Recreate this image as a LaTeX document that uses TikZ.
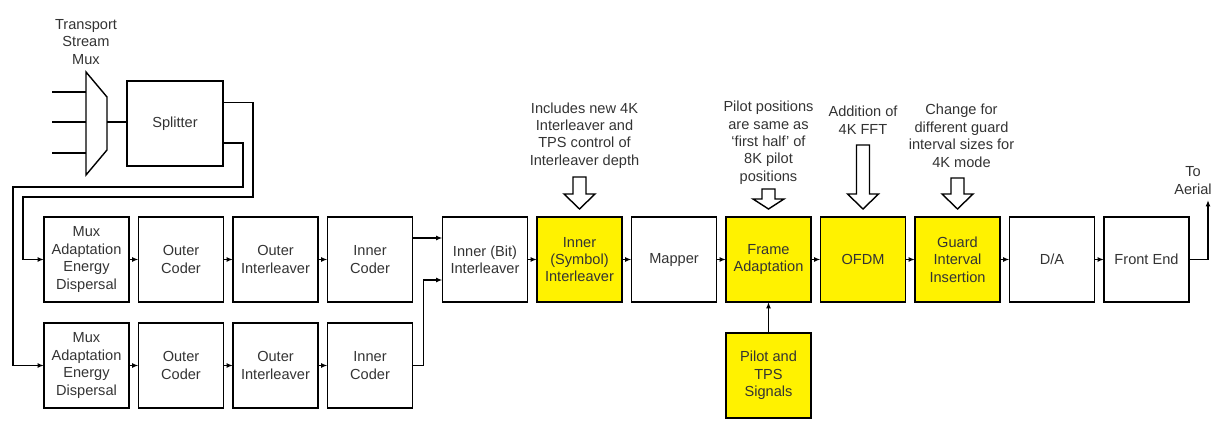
\documentclass[tikz,border=0pt]{standalone}
\usepackage{fontspec}
\setmainfont{Liberation Sans}
\usetikzlibrary{arrows.meta,positioning}

% hollow arrow above a block: node, head height, shaft length, name of shaft top
\newcommand{\hollowarrow}[4]{%
  \draw[fill=white] ([yshift=0.16cm]#1.north) -- ++(-0.31,#2) -- ++(0.18,0) -- ++(0,#3)
    -- ++(0.26,0) -- ++(0,-#3) -- ++(0.18,0) -- cycle;
  \path ([yshift=0.16cm]#1.north) ++(0,{#2+#3}) coordinate (#4);}

\begin{document}
\begin{tikzpicture}[
  node distance=0.19cm,
  line width=0.8pt,
  block/.style={draw, align=center, minimum width=1.7cm, minimum height=1.7cm, inner sep=1pt,
    outer sep=0pt, text=black!80, font=\fontsize{8.3}{9.9}\selectfont},
  hot/.style={block, fill=yellow},
  note/.style={align=center, inner sep=0pt, text=black!80, font=\fontsize{8.3}{9.9}\selectfont},
  >={Latex[length=1.3mm, width=1mm]}
]
\useasboundingbox (0,0) rectangle (24.34,-8.5);

% transport stream mux and splitter
\draw (1.72,-1.44) coordinate (mux-top) -- (2.14,-1.94) -- (2.14,-3.0) -- (1.72,-3.5) -- cycle;
\foreach \y in {-1.84,-2.44,-3.06}
  \draw (1.04,\y) -- (1.72,\y);
\coordinate (mux-out) at (2.14,-2.44);
\node[note, above=0.14cm of mux-top] (muxlabel) {Transport\\Stream\\Mux};
\node[block, minimum width=1.92cm] (splitter) at (3.5,-2.47) {Splitter};
\draw (mux-out) -- (mux-out -| splitter.west);

% two input chains
\node[block] (muxad1) at (1.73,-5.19) {Mux\\Adaptation\\Energy\\Dispersal};
\node[block, right=of muxad1] (outer1) {Outer\\Coder};
\node[block, right=of outer1] (oint1) {Outer\\Interleaver};
\node[block, right=of oint1] (inner1) {Inner\\Coder};
\node[block, below=0.42cm of muxad1] (muxad2) {Mux\\Adaptation\\Energy\\Dispersal};
\node[block, right=of muxad2] (outer2) {Outer\\Coder};
\node[block, right=of outer2] (oint2) {Outer\\Interleaver};
\node[block, right=of oint2] (inner2) {Inner\\Coder};

% main chain
\node[block, right=0.6cm of inner1] (bitint) {Inner (Bit)\\Interleaver};
\node[hot, right=of bitint] (symint) {Inner\\(Symbol)\\Interleaver};
\node[block, right=of symint] (mapper) {Mapper};
\node[hot, right=of mapper] (frame) {Frame\\Adaptation};
\node[hot, right=of frame] (ofdm) {OFDM};
\node[hot, right=of ofdm] (guard) {Guard\\Interval\\Insertion};
\node[block, right=of guard] (da) {D/A};
\node[block, right=of da] (frontend) {Front End};
\node[hot, below=0.62cm of frame] (pilot) {Pilot and\\TPS\\Signals};

\draw[->] ([yshift=0.42cm]splitter.east) -- ++(0.6,0) |- (0.46,-3.94) |- (muxad1.west);
\draw[->] ([yshift=-0.39cm]splitter.east) -- ++(0.4,0) |- (0.26,-3.74) |- (muxad2.west);

\foreach \a/\b in {muxad1/outer1, outer1/oint1, oint1/inner1, muxad2/outer2, outer2/oint2,
  oint2/inner2, bitint/symint, symint/mapper, mapper/frame, frame/ofdm, ofdm/guard,
  guard/da, da/frontend, pilot/frame}
  \draw[->] (\a) -- (\b);
\draw[->] ([yshift=0.43cm]inner1.east) -- ([yshift=0.43cm]bitint.west);
\draw[->] (inner2.east) -- ++(0.22,0) |- ([yshift=-0.41cm]bitint.west);

\draw[->] (frontend.east) -- ++(0.38,0) coordinate (bend) -- ++(0,1.19) coordinate (aerial);
\node[note, above=0.1cm of aerial, xshift=-0.3cm] (aeriallabel) {To\\Aerial};

% changes for 4K mode
\hollowarrow{symint}{0.3}{0.34}{symint-top}
\hollowarrow{frame}{0.2}{0.2}{frame-top}
\hollowarrow{ofdm}{0.3}{0.98}{ofdm-top}
\hollowarrow{guard}{0.3}{0.32}{guard-top}
\node[note, above=0.16cm of symint-top, xshift=0.1cm] (symnote) {Includes new 4K\\Interleaver and\\TPS control of\\Interleaver depth};
\node[note, above=0.08cm of frame-top] (framenote) {Pilot positions\\are same as\\`first half' of\\8K pilot\\positions};
\node[note, above=0.2cm of ofdm-top] (ofdmnote) {Addition of\\4K FFT};
\node[note, above=0.2cm of guard-top, xshift=0.08cm] (guardnote) {Change for\\different guard\\interval sizes for\\4K mode};
\end{tikzpicture}
\end{document}
